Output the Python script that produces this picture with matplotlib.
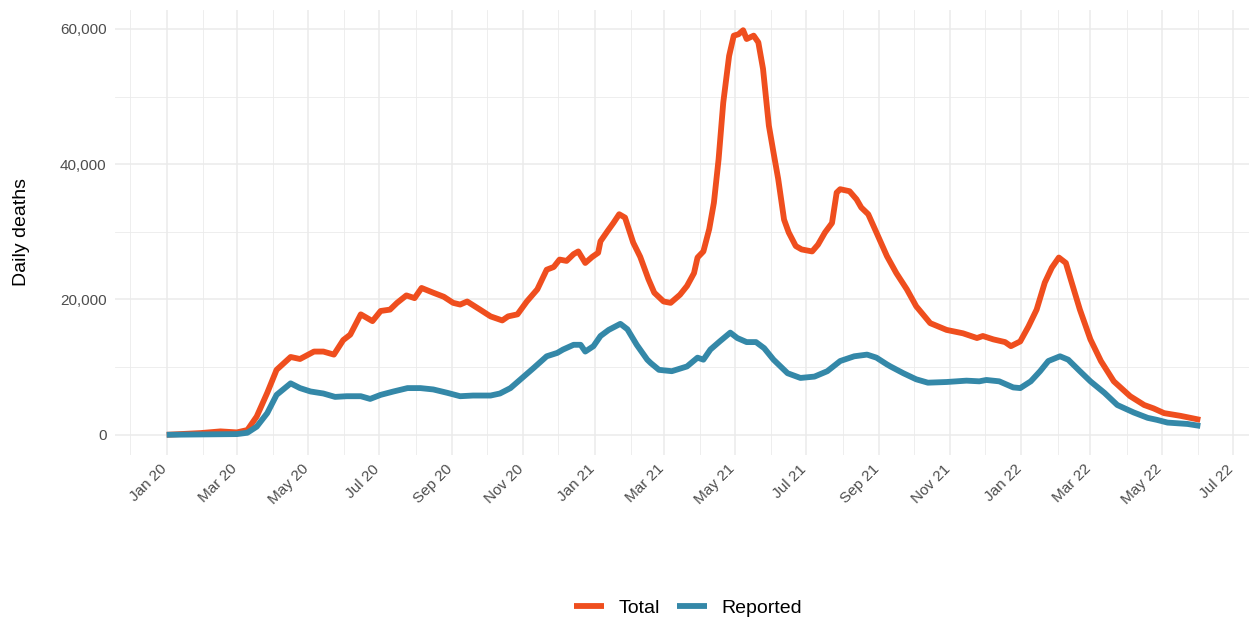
import matplotlib
matplotlib.use("Agg")
import matplotlib.pyplot as plt
import matplotlib.dates as mdates
import matplotlib.transforms as mtransforms
from matplotlib.lines import Line2D
from matplotlib.ticker import FuncFormatter, MultipleLocator
import pandas as pd

# ---------------- data ----------------
total_dates = [
    "2020-01-01", "2020-01-30", "2020-02-16", "2020-03-01", "2020-03-10", "2020-03-18",
    "2020-03-27", "2020-04-04", "2020-04-16", "2020-04-24", "2020-05-06", "2020-05-14",
    "2020-05-23", "2020-05-31", "2020-06-06", "2020-06-15", "2020-06-25", "2020-07-02",
    "2020-07-10", "2020-07-16", "2020-07-24", "2020-07-31", "2020-08-06", "2020-08-16",
    "2020-08-25", "2020-09-02", "2020-09-08", "2020-09-14", "2020-09-25", "2020-10-04",
    "2020-10-14", "2020-10-19", "2020-10-27", "2020-11-04", "2020-11-13", "2020-11-21",
    "2020-11-27", "2020-12-02", "2020-12-08", "2020-12-14", "2020-12-18", "2020-12-24",
    "2020-12-30", "2021-01-04", "2021-01-06", "2021-01-12", "2021-01-17", "2021-01-22",
    "2021-01-27", "2021-02-03", "2021-02-09", "2021-02-16", "2021-02-21", "2021-03-01",
    "2021-03-07", "2021-03-15", "2021-03-21", "2021-03-27", "2021-03-30", "2021-04-04",
    "2021-04-09", "2021-04-13", "2021-04-17", "2021-04-21", "2021-04-26", "2021-04-30",
    "2021-05-04", "2021-05-08", "2021-05-11", "2021-05-17", "2021-05-21", "2021-05-25",
    "2021-05-30", "2021-06-03", "2021-06-07", "2021-06-12", "2021-06-16", "2021-06-22",
    "2021-06-27", "2021-07-06", "2021-07-11", "2021-07-17", "2021-07-23", "2021-07-27",
    "2021-07-30", "2021-08-07", "2021-08-13", "2021-08-17", "2021-08-23", "2021-08-30",
    "2021-09-08", "2021-09-16", "2021-09-25", "2021-10-03", "2021-10-15", "2021-10-29",
    "2021-11-12", "2021-11-24", "2021-11-29", "2021-12-08", "2021-12-18", "2021-12-23",
    "2021-12-31", "2022-01-07", "2022-01-14", "2022-01-21", "2022-01-27", "2022-02-02",
    "2022-02-08", "2022-02-13", "2022-02-20", "2022-03-01", "2022-03-10", "2022-03-21",
    "2022-04-04", "2022-04-16", "2022-04-24", "2022-05-03", "2022-05-17", "2022-06-03",
]
total_values = [
    0, 250, 500, 350, 700, 2700,
    6200, 9600, 11500, 11200, 12300, 12300,
    11850, 14000, 14800, 17800, 16800, 18300,
    18500, 19500, 20600, 20200, 21700, 21000,
    20400, 19500, 19250, 19700, 18500, 17500,
    16900, 17500, 17800, 19700, 21500, 24400,
    24800, 25900, 25700, 26700, 27100, 25400,
    26300, 26900, 28600, 30100, 31300, 32600,
    32100, 28400, 26300, 23000, 21000, 19700,
    19500, 20700, 22000, 23900, 26200, 27100,
    30400, 34300, 40700, 49100, 56000, 59000,
    59200, 59800, 58500, 59000, 58000, 54100,
    45700, 41700, 37800, 31800, 29900, 27900,
    27400, 27100, 28100, 29900, 31300, 35800,
    36300, 36000, 34800, 33600, 32600, 29900,
    26400, 23900, 21500, 19000, 16500, 15500,
    15000, 14300, 14600, 14100, 13700, 13100,
    13800, 16000, 18500, 22500, 24700, 26200,
    25400, 22500, 18500, 14100, 10900, 7900,
    5700, 4400, 3900, 3200, 2800, 2200,
]

reported_dates = [
    "2020-01-01", "2020-01-30", "2020-03-01", "2020-03-10", "2020-03-18", "2020-03-27",
    "2020-04-04", "2020-04-16", "2020-04-24", "2020-05-03", "2020-05-14", "2020-05-24",
    "2020-06-03", "2020-06-15", "2020-06-23", "2020-07-02", "2020-07-13", "2020-07-25",
    "2020-08-05", "2020-08-16", "2020-08-28", "2020-09-08", "2020-09-19", "2020-10-04",
    "2020-10-12", "2020-10-21", "2020-10-29", "2020-11-10", "2020-11-21", "2020-11-30",
    "2020-12-05", "2020-12-14", "2020-12-20", "2020-12-24", "2020-12-31", "2021-01-06",
    "2021-01-13", "2021-01-23", "2021-01-29", "2021-02-06", "2021-02-15", "2021-02-18",
    "2021-02-25", "2021-03-08", "2021-03-21", "2021-03-30", "2021-04-04", "2021-04-10",
    "2021-04-18", "2021-04-27", "2021-05-03", "2021-05-11", "2021-05-19", "2021-05-26",
    "2021-06-03", "2021-06-15", "2021-06-26", "2021-07-08", "2021-07-19", "2021-07-30",
    "2021-08-11", "2021-08-22", "2021-08-30", "2021-09-08", "2021-09-11", "2021-09-22",
    "2021-10-03", "2021-10-13", "2021-10-29", "2021-11-15", "2021-11-26", "2021-12-02",
    "2021-12-13", "2021-12-25", "2021-12-31", "2022-01-09", "2022-01-17", "2022-01-24",
    "2022-02-03", "2022-02-10", "2022-02-20", "2022-03-01", "2022-03-13", "2022-03-24",
    "2022-04-07", "2022-04-19", "2022-04-27", "2022-05-06", "2022-05-23", "2022-06-03",
]
reported_values = [
    0, 50, 100, 300, 1200, 3200,
    5900, 7600, 6900, 6400, 6100, 5600,
    5700, 5700, 5300, 5900, 6400, 6900,
    6900, 6700, 6200, 5700, 5800, 5800,
    6100, 6900, 8100, 9900, 11600, 12100,
    12600, 13300, 13300, 12300, 13100, 14600,
    15500, 16400, 15600, 13300, 11100, 10600,
    9600, 9400, 10100, 11400, 11100, 12600,
    13800, 15100, 14300, 13700, 13700, 12800,
    11100, 9100, 8400, 8600, 9400, 10900,
    11600, 11850, 11400, 10400, 10100, 9100,
    8200, 7700, 7800, 8000, 7900, 8100,
    7900, 7000, 6900, 7900, 9400, 10900,
    11600, 11100, 9400, 7900, 6200, 4400,
    3300, 2500, 2200, 1800, 1600, 1300,
]

series_names = ["Total", "Reported"]
series_colors = ["#EF4E1E", "#3488A8"]
y_ticks = [0, 20000, 40000, 60000]
y_label = "Daily deaths"

# ---------------- plot ----------------
plt.rcParams["font.family"] = ["Liberation Sans", "DejaVu Sans"]

W, H = 1249, 620
fig = plt.figure(figsize=(W / 100, H / 100), dpi=100)
ax = fig.add_axes([115 / W, 165 / H, 1137 / W, 445 / H])

td = pd.to_datetime(total_dates)
rd = pd.to_datetime(reported_dates)

lw = 4.2
ax.plot(td, total_values, color=series_colors[0], lw=lw,
        solid_capstyle="butt", solid_joinstyle="round", zorder=3)
ax.plot(rd, reported_values, color=series_colors[1], lw=lw,
        solid_capstyle="butt", solid_joinstyle="round", zorder=4)

# limits with ggplot-like 5% expansion
x0 = min(td.min(), rd.min())
x1 = max(td.max(), rd.max())
span = x1 - x0
ax.set_xlim(x0 - 0.05 * span, x1 + 0.05 * span)
ymax = max(max(total_values), max(reported_values))
ax.set_ylim(-0.05 * ymax, ymax * 1.05)

# ticks and grid
ax.xaxis.set_major_locator(mdates.MonthLocator(bymonth=[1, 3, 5, 7, 9, 11]))
ax.xaxis.set_minor_locator(mdates.MonthLocator())
ax.xaxis.set_major_formatter(mdates.DateFormatter("%b %y"))
ax.set_yticks(y_ticks)
ax.yaxis.set_minor_locator(MultipleLocator(10000))
ax.yaxis.set_major_formatter(FuncFormatter(lambda v, p: f"{int(v):,}"))

grid_c = "#EBEBEB"
ax.grid(which="major", color=grid_c, lw=1.1, zorder=0)
ax.grid(which="minor", color=grid_c, lw=0.6, zorder=0)
ax.set_axisbelow(True)

for s in ax.spines.values():
    s.set_visible(False)

ax.tick_params(axis="both", which="both", length=0)
ax.tick_params(axis="y", labelsize=11, labelcolor="#4D4D4D", pad=6)
ax.tick_params(axis="x", labelsize=11, labelcolor="#4D4D4D", pad=5)
shift = mtransforms.ScaledTranslation(-7 / 100, 0, fig.dpi_scale_trans)
for lab in ax.get_xticklabels():
    lab.set_rotation(45)
    lab.set_ha("right")
    lab.set_va("top")
    lab.set_rotation_mode("anchor")
    lab.set_transform(lab.get_transform() + shift)

ax.set_ylabel(y_label, fontsize=14, color="black")
ax.yaxis.label.set_va("center")
ax.yaxis.set_label_coords((22 - 115) / 1137, 0.5)

handles = [Line2D([0], [0], color=c, lw=lw, solid_capstyle="butt") for c in series_colors]
fig.legend(handles, series_names, loc="center", bbox_to_anchor=(688 / W, 12 / H),
           ncol=2, frameon=False, fontsize=14, handlelength=1.55,
           handletextpad=0.75, columnspacing=0.9)

fig.savefig("out.png", dpi=100, facecolor="white")
